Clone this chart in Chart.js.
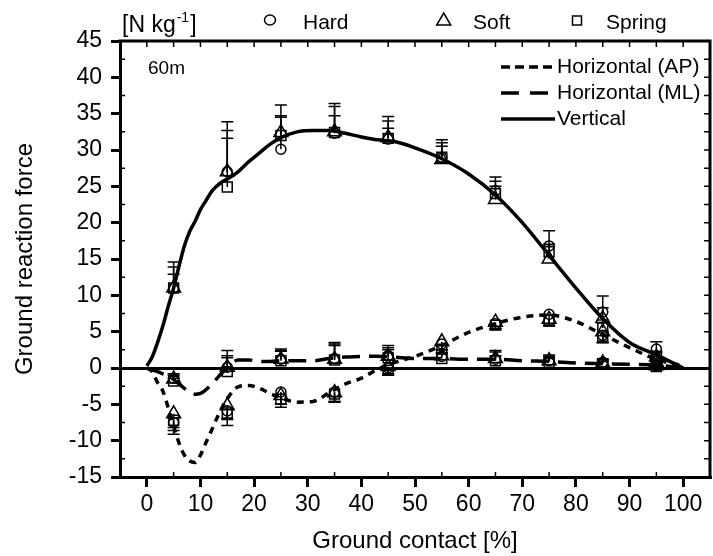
<!DOCTYPE html>
<html>
<head>
<meta charset="utf-8">
<script src="https://cdn.jsdelivr.net/npm/chart.js@4.4.1/dist/chart.umd.min.js"></script>
<style>
    html, body { margin: 0; padding: 0; background: #fff; }
</style>
</head>
<body>
<canvas id="grfChart" width="713" height="556"></canvas>
<script>
// Medelkurvor (% av kontakttiden)
const curveX = [0, 1, 2, 3, 4, 5, 6, 7, 8, 9, 10, 11, 12, 13, 14, 15, 17, 19, 21, 23, 25, 28, 31, 34, 37, 40, 43, 46, 50, 55, 60, 65, 70, 75, 80, 85, 90, 95, 100];
const vertical = [0.3, 1.5, 3.5, 5.8, 8.5, 11, 14, 16.8, 18.8, 20.2, 21.8, 23, 24.2, 25, 25.6, 26, 27, 28.4, 29.6, 30.8, 31.7, 32.5, 32.7, 32.7, 32.3, 31.8, 31.4, 31.2, 30.3, 28.8, 26.7, 23.8, 20, 15.5, 11, 6.8, 3.5, 1.8, 0];
const horizAP = [0, -0.5, -2, -3.2, -5.5, -8, -10.3, -12, -12.8, -13, -12, -10.3, -8.7, -7, -5.5, -4.2, -2.6, -2.4, -2.8, -3.5, -4.1, -4.7, -4.6, -3.4, -2.2, -1.4, -0.2, 0.7, 1.6, 3.1, 4.9, 6.1, 7, 7.3, 6.4, 4.6, 2.8, 1.2, 0.3];
const horizML = [0, -0.3, -0.5, -0.8, -1.1, -1.6, -2.2, -2.8, -3.3, -3.6, -3.5, -3, -2.3, -1.5, -0.7, 0, 1.1, 1.1, 0.9, 0.9, 1, 1, 1, 1.3, 1.5, 1.6, 1.6, 1.5, 1.3, 1.3, 1.2, 1.2, 1, 0.9, 0.7, 0.6, 0.5, 0.4, 0];

// Mätpunkter per underlag
const contact = [5, 15, 25, 35, 45, 55, 65, 75, 85, 95];
const vertHard = [11, 27, 30.1, 32.3, 31.5, 29, 24.4, 16.8, 7.7, 2.6];
const vertSoft = [11, 27, 32.4, 32.5, 31.7, 28.7, 23.2, 15, 6.8, 1.5];
const vertSpring = [11, 24.9, 32, 32.4, 31.6, 29, 24, 16, 5.5, 1.5];
const vertHardSd = [3.6, 6.9, 4.4, 4.1, 3.1, 2.4, 1.9, 2.1, 2.2, 1];
const vertSoftSd = [2.9, 5.7, 3.8, 3.5, 2.3, 2.3, 2.5, 2, 1.5, 0.8];
const vertSpringSd = [1.9, 6.7, 2.7, 2.3, 1.4, 1.5, 1, 1, 1.1, 0.6];
const apHard = [-7.5, -5.9, -3.3, -3.3, 0, 3.3, 6.1, 7.4, 4.5, 1];
const apSoft = [-6.3, -5.2, -3.8, -3.4, 0.2, 3.6, 6.3, 6.7, 5, 0.8];
const apSpring = [-7.2, -6.2, -4.3, -3.6, -0.3, 2.6, 5.9, 6.6, 4.4, 0.6];
const apHardSd = [1.6, 2, 1.7, 1.3, 1, 1.2, 0.8, 1.6, 1, 0.5];
const apSoftSd = [2.3, 1.8, 1.2, 1.2, 1, 1.5, 0.9, 0.9, 1.5, 0.4];
const apSpringSd = [1, 0.9, 1.1, 1.1, 0.7, 0.6, 0.5, 0.8, 0.9, 0.3];
const mlHard = [-1.4, 0.1, 1.2, 1.3, 1.7, 1.6, 1.2, 1, 0.8, 0.3];
const mlSoft = [-1.5, 0.1, 1.2, 1.2, 1.6, 1.7, 1.3, 1, 0.7, 0.3];
const mlSpring = [-1.8, -0.5, 1, 1.1, 1.4, 1.3, 1, 0.8, 0.6, 0.2];
const mlHardSd = [0.6, 2.3, 1.4, 2.2, 1.4, 0.9, 1.2, 0.8, 0.4, 0.3];
const mlSoftSd = [0.5, 1.6, 1.2, 1.9, 1.2, 0.8, 0.9, 0.6, 0.4, 0.2];
const mlSpringSd = [0.4, 1.9, 1.3, 2.2, 1.1, 0.7, 0.7, 0.5, 0.3, 0.2];

// Axlar
const xTicks = [0, 10, 20, 30, 40, 50, 60, 70, 80, 90, 100];
const yTicks = [-15, -10, -5, 0, 5, 10, 15, 20, 25, 30, 35, 40, 45];

const FONT = "'Liberation Sans', Arial, sans-serif";
Chart.defaults.font.family = FONT;
Chart.defaults.color = "#000";

function curveSet(label, values, dash) {
    return {
        label: label,
        data: curveX.map((x, i) => ({ x: x, y: values[i] })),
        showLine: true,
        borderColor: "#000",
        borderWidth: 3.5,
        borderDash: dash,
        pointRadius: 0,
        cubicInterpolationMode: "monotone",
        order: 2
    };
}

function markerSet(label, values, sd, dir, style, radius) {
    return {
        label: label,
        data: contact.map((x, i) => ({ x: x, y: values[i] })),
        errors: sd,
        errorDir: dir,
        showLine: false,
        pointStyle: style,
        pointRadius: radius,
        pointBorderColor: "#000",
        pointBackgroundColor: "rgba(0,0,0,0)",
        pointBorderWidth: 1.5,
        order: 1
    };
}

// Felstaplar, ram och förklaringar
const extras = {
    id: "extras",
    afterDatasetsDraw(chart) {
        const ctx = chart.ctx;
        const yScale = chart.scales.y;
        ctx.save();
        ctx.strokeStyle = "#000";
        ctx.lineWidth = 1.5;
        chart.data.datasets.forEach((ds, i) => {
            if (!ds.errors) return;
            chart.getDatasetMeta(i).data.forEach((pt, j) => {
                const end = yScale.getPixelForValue(ds.data[j].y + ds.errorDir * ds.errors[j]);
                ctx.beginPath();
                ctx.moveTo(pt.x, pt.y);
                ctx.lineTo(pt.x, end);
                ctx.moveTo(pt.x - 6, end);
                ctx.lineTo(pt.x + 6, end);
                ctx.stroke();
            });
        });
        ctx.restore();
    },
    afterDraw(chart) {
        const ctx = chart.ctx;
        const a = chart.chartArea;
        const xs = chart.scales.x;
        const ys = chart.scales.y;
        ctx.save();
        ctx.strokeStyle = "#000";
        ctx.fillStyle = "#000";

        // ram uppe och till höger
        ctx.lineWidth = 3;
        ctx.beginPath();
        ctx.moveTo(a.left - 1.5, a.top);
        ctx.lineTo(a.right, a.top);
        ctx.lineTo(a.right, a.bottom + 1.5);
        ctx.stroke();

        // små skalstreck
        ctx.lineWidth = 1.5;
        ctx.beginPath();
        for (let v = 0; v <= 100; v += 5) {
            const px = xs.getPixelForValue(v);
            ctx.moveTo(px, a.top);
            ctx.lineTo(px, a.top + 6);
            if (v % 10 !== 0) {
                ctx.moveTo(px, a.bottom);
                ctx.lineTo(px, a.bottom - 5);
            }
        }
        for (let v = -12.5; v < 45; v += 2.5) {
            const py = ys.getPixelForValue(v);
            ctx.moveTo(a.right, py);
            ctx.lineTo(a.right - 6, py);
            if (v % 5 !== 0) {
                ctx.moveTo(a.left, py);
                ctx.lineTo(a.left + 5, py);
            }
        }
        ctx.stroke();

        // enhet
        ctx.textBaseline = "alphabetic";
        ctx.textAlign = "left";
        ctx.font = "23px " + FONT;
        ctx.fillText("[N kg", 122, 32);
        let w = ctx.measureText("[N kg").width;
        ctx.font = "14px " + FONT;
        ctx.fillText("-1", 122 + w + 1, 22);
        const w2 = ctx.measureText("-1").width;
        ctx.font = "23px " + FONT;
        ctx.fillText("]", 122 + w + w2 + 2, 32);

        // underlag
        ctx.lineWidth = 1.5;
        ctx.beginPath();
        ctx.ellipse(270, 20, 5.5, 5, 0, 0, Math.PI * 2);
        ctx.stroke();
        ctx.beginPath();
        ctx.moveTo(443.7, 13);
        ctx.lineTo(450.7, 25);
        ctx.lineTo(436.7, 25);
        ctx.closePath();
        ctx.stroke();
        ctx.strokeRect(572.5, 16, 9, 9);
        ctx.font = "21px " + FONT;
        ctx.fillText("Hard", 303, 29);
        ctx.fillText("Soft", 473, 29);
        ctx.fillText("Spring", 606, 29);

        // distans
        ctx.font = "19px " + FONT;
        ctx.fillText("60m", 148, 74);

        // linjeförklaring
        const rows = [
            { text: "Horizontal (AP)", dash: [9, 5], y: 67 },
            { text: "Horizontal (ML)", dash: [18, 11], y: 93 },
            { text: "Vertical", dash: [], y: 119 }
        ];
        ctx.font = "21px " + FONT;
        ctx.textBaseline = "middle";
        rows.forEach(r => {
            ctx.lineWidth = 3.5;
            ctx.setLineDash(r.dash);
            ctx.beginPath();
            ctx.moveTo(501, r.y);
            ctx.lineTo(555, r.y);
            ctx.stroke();
            ctx.setLineDash([]);
            ctx.fillText(r.text, 557, r.y);
        });
        ctx.restore();
    }
};

new Chart(document.getElementById("grfChart"), {
    type: "scatter",
    data: {
        datasets: [
            curveSet("Horizontal (AP)", horizAP, [7, 6]),
            curveSet("Horizontal (ML)", horizML, [18, 9]),
            curveSet("Vertical", vertical, []),
            markerSet("Hard", vertHard, vertHardSd, 1, "circle", 5),
            markerSet("Soft", vertSoft, vertSoftSd, 1, "triangle", 8),
            markerSet("Spring", vertSpring, vertSpringSd, 1, "rect", 7),
            markerSet("Hard", apHard, apHardSd, -1, "circle", 5),
            markerSet("Soft", apSoft, apSoftSd, -1, "triangle", 8),
            markerSet("Spring", apSpring, apSpringSd, -1, "rect", 7),
            markerSet("Hard", mlHard, mlHardSd, 1, "circle", 5),
            markerSet("Soft", mlSoft, mlSoftSd, 1, "triangle", 8),
            markerSet("Spring", mlSpring, mlSpringSd, 1, "rect", 7)
        ]
    },
    options: {
        responsive: false,
        animation: false,
        devicePixelRatio: 1,
        layout: { autoPadding: false, padding: { top: 41, right: 3, left: 0, bottom: 0 } },
        plugins: {
            legend: { display: false },
            tooltip: { enabled: false }
        },
        scales: {
            x: {
                type: "linear",
                min: -5,
                max: 105,
                afterBuildTicks: s => { s.ticks = xTicks.map(v => ({ value: v })); },
                afterFit: s => {
                    s.height = 79;
                    s.paddingLeft = 0;
                    s.paddingRight = 0;
                },
                grid: { drawOnChartArea: false, color: "#000", lineWidth: 3, tickLength: 10 },
                border: { color: "#000", width: 3 },
                ticks: { font: { size: 23 }, padding: 4, maxRotation: 0 },
                title: { display: true, text: "Ground contact [%]", font: { size: 24 }, padding: 0 }
            },
            y: {
                min: -15,
                max: 45,
                afterBuildTicks: s => { s.ticks = yTicks.map(v => ({ value: v })); },
                afterFit: s => { s.width = 120; },
                grid: {
                    color: c => (c.tick && c.tick.value === 0 ? "#000" : "rgba(0,0,0,0)"),
                    tickColor: "#000",
                    lineWidth: 3,
                    tickWidth: 3,
                    tickLength: 9
                },
                border: { color: "#000", width: 3 },
                ticks: { font: { size: 23 }, padding: 9 },
                title: { display: true, text: "Ground reaction force", font: { size: 24 }, padding: { top: 11, bottom: 0 } }
            }
        }
    },
    plugins: [extras]
});
</script>
</body>
</html>
